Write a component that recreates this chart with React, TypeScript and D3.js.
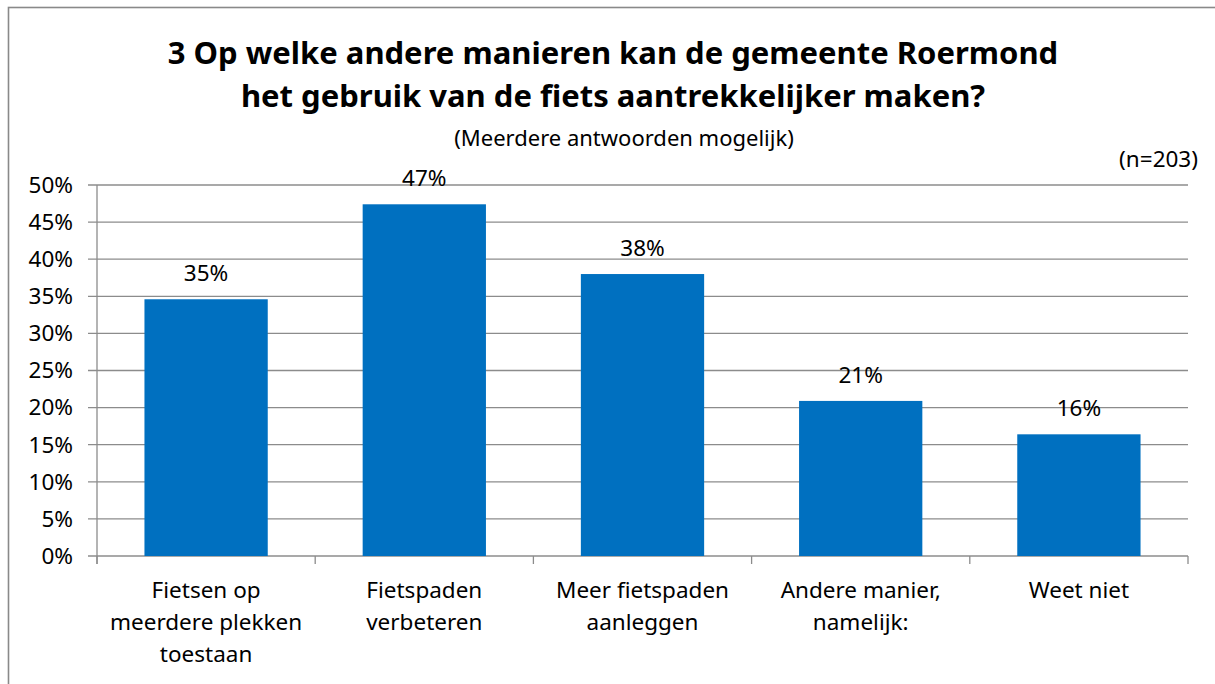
import React from "react";
import * as d3 from "d3";

const categories: string[][] = [
  ["Fietsen op", "meerdere plekken", "toestaan"],
  ["Fietspaden", "verbeteren"],
  ["Meer fietspaden", "aanleggen"],
  ["Andere manier,", "namelijk:"],
  ["Weet niet"],
];
const values: number[] = [34.6, 47.4, 38.0, 20.9, 16.4];
const valueLabels: string[] = ["35%", "47%", "38%", "21%", "16%"];
const yTicks: number[] = [0, 5, 10, 15, 20, 25, 30, 35, 40, 45, 50];
const titleLines: string[] = [
  "3 Op welke andere manieren kan de gemeente Roermond",
  "het gebruik van de fiets aantrekkelijker maken?",
];
const subtitle = "(Meerdere antwoorden mogelijk)";
const nLabel = "(n=203)";

const W = 1215;
const H = 684;
const FONT = "'Noto Sans', sans-serif";

export default function App() {
  const left = 97, right = 1188, top = 185, bottom = 556;
  const x = d3
    .scaleBand<number>()
    .domain(d3.range(categories.length))
    .range([left, right])
    .paddingInner(0.435)
    .paddingOuter(0.2175);
  const y = d3.scaleLinear().domain([0, 50]).range([bottom, top]);
  const step = (right - left) / categories.length;
  const gridColor = "#8c8c8c";
  const fs = 22.5;

  return (
    <svg
      width={W}
      height={H}
      style={{ position: "absolute", left: 0, top: 0, background: "#fff" }}
      fontFamily={FONT}
    >
      <rect x={0} y={0} width={W} height={H} fill="#fff" />
      <rect x={8.5} y={7.5} width={W + 10} height={H + 10} fill="none" stroke="#898989" strokeWidth={1.6} />
      {titleLines.map((t, i) => (
        <text key={i} x={613} y={64 + i * 43} textAnchor="middle" fontSize={31} fontWeight="bold" fill="#000">
          {t}
        </text>
      ))}
      <text x={624} y={146} textAnchor="middle" fontSize={22} fill="#000">
        {subtitle}
      </text>
      <text x={1198} y={167} textAnchor="end" fontSize={fs} fill="#000">
        {nLabel}
      </text>
      {yTicks.map((t) => (
        <line key={t} x1={left - 9} x2={right} y1={y(t)} y2={y(t)} stroke={gridColor} strokeWidth={1.3} />
      ))}
      <line x1={left} x2={left} y1={top} y2={bottom + 8} stroke={gridColor} strokeWidth={1.3} />
      {d3.range(categories.length + 1).map((i) => (
        <line key={i} x1={left + i * step} x2={left + i * step} y1={bottom} y2={bottom + 8} stroke={gridColor} strokeWidth={1.3} />
      ))}
      {yTicks.map((t) => (
        <text key={t} x={73} y={y(t)} dy="0.35em" textAnchor="end" fontSize={fs} fill="#000">
          {t}%
        </text>
      ))}
      {values.map((v, i) => (
        <rect key={i} x={x(i)!} y={y(v)} width={x.bandwidth()} height={bottom - y(v)} fill="#0070C0" />
      ))}
      {values.map((v, i) => (
        <text key={i} x={x(i)! + x.bandwidth() / 2} y={y(v) - 18} textAnchor="middle" fontSize={fs} fill="#000">
          {valueLabels[i]}
        </text>
      ))}
      {categories.map((lines, i) => (
        <text key={i} x={x(i)! + x.bandwidth() / 2} y={598} textAnchor="middle" fontSize={fs} fill="#000">
          {lines.map((l, j) => (
            <tspan key={j} x={x(i)! + x.bandwidth() / 2} dy={j === 0 ? 0 : 32}>
              {l}
            </tspan>
          ))}
        </text>
      ))}
    </svg>
  );
}
